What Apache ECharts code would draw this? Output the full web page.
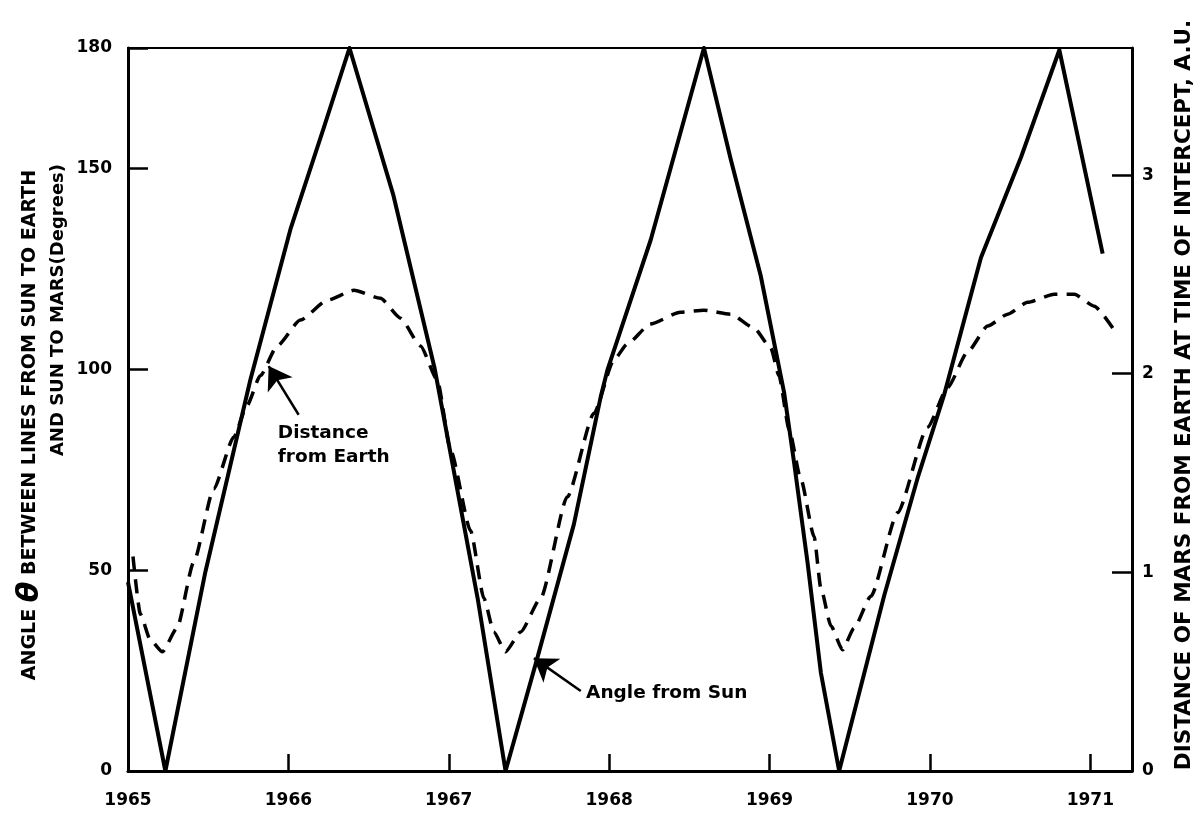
<!DOCTYPE html>
<html>
<head>
<meta charset="utf-8">
<script src="https://cdn.jsdelivr.net/npm/echarts@6/dist/echarts.min.js"></script>
<style>
  html, body { margin: 0; padding: 0; background: #fff; }
  #chart { width: 1203px; height: 818px; }
</style>
</head>
<body>
<div id="chart"></div>
<script>
// angle between sun-earth and sun-mars lines (degrees, left axis)
var angleDates = [1965.00, 1965.233, 1965.482, 1965.763, 1966.013, 1966.219, 1966.381,
  1966.655, 1966.911, 1967.180, 1967.354,
  1967.552, 1967.780, 1967.947, 1967.989, 1968.259, 1968.591,
  1968.758, 1968.945, 1969.091, 1969.153, 1969.237, 1969.320, 1969.434,
  1969.715, 1969.923, 1970.089, 1970.318, 1970.568, 1970.807,
  1971.077];
var angleValues = [47, 0, 49.5, 97.4, 134.9, 159.9, 180,
  143.3, 100.4, 43, 0,
  28.1, 61.4, 93.1, 99.8, 132.2, 180,
  152.3, 123.3, 94.2, 76.8, 51.9, 24.5, 0,
  43.7, 72.9, 93.7, 127.8, 152.8, 179.5,
  128.8];

// distance of mars from earth (A.U., right axis)
var distDates = [1965.031, 1965.077, 1965.139, 1965.214, 1965.306, 1965.409, 1965.534, 1965.659,
  1965.742, 1965.825, 1965.930, 1966.075, 1966.242, 1966.408, 1966.574, 1966.699, 1966.824,
  1966.928, 1967.013, 1967.136, 1967.219, 1967.281, 1967.354, 1967.448, 1967.573, 1967.739,
  1967.905, 1968.030, 1968.113, 1968.257, 1968.444, 1968.591, 1968.758, 1968.904, 1969.008,
  1969.059, 1969.122, 1969.195, 1969.278, 1969.320, 1969.383, 1969.455, 1969.527, 1969.632,
  1969.798, 1969.985, 1970.110, 1970.235, 1970.360, 1970.485, 1970.609, 1970.775, 1970.900,
  1971.025, 1971.140];
var distValues = [1.08, 0.79, 0.66, 0.60, 0.72, 1.05, 1.42, 1.68,
  1.84, 1.99, 2.14, 2.27, 2.37, 2.42, 2.38, 2.28, 2.14,
  1.97, 1.61, 1.21, 0.87, 0.70, 0.60, 0.70, 0.87, 1.38,
  1.80, 2.07, 2.15, 2.25, 2.31, 2.32, 2.30, 2.23, 2.13,
  1.99, 1.72, 1.47, 1.18, 0.92, 0.73, 0.61, 0.72, 0.88,
  1.30, 1.73, 1.93, 2.11, 2.24, 2.30, 2.36, 2.40, 2.40,
  2.34, 2.23];

var yearTicks = [1965, 1966, 1967, 1968, 1969, 1970, 1971];

// annotations (data coords on left axis)
var distArrow = [[1966.064, 88.7], [1965.877, 100.8]];
var angleArrow = [[1967.823, 19.9], [1967.531, 28.1]];
var distText = [1965.931, 81];
var angleText = [1967.853, 19.4];

function zip(a, b) {
  return a.map(function (v, i) { return [v, b[i]]; });
}

var font = 'DejaVu Sans';
var chart = echarts.init(document.getElementById('chart'));

var option = {
  animation: false,
  backgroundColor: '#fff',
  grid: {
    left: 128, right: 71, top: 48, bottom: 47,
    show: true, borderColor: '#000', borderWidth: 2
  },
  xAxis: {
    type: 'value',
    min: 1965,
    max: 1971.26,
    interval: 1,
    axisLine: { lineStyle: { color: '#000', width: 3 } },
    axisTick: { inside: true, length: 17, lineStyle: { color: '#000', width: 2.5 } },
    axisLabel: {
      margin: 21,
      showMaxLabel: false,
      color: '#000', fontFamily: font, fontWeight: 'bold', fontSize: 17,
      formatter: function (v) { return yearTicks.indexOf(v) >= 0 ? String(v) : ''; }
    },
    splitLine: { show: false }
  },
  yAxis: [{
    type: 'value',
    min: 0,
    max: 180,
    interval: 50,
    axisLine: { show: true, lineStyle: { color: '#000', width: 3 } },
    axisTick: { show: true, inside: true, length: 20, lineStyle: { color: '#000', width: 2.5 } },
    axisLabel: { margin: 16, color: '#000', fontFamily: font, fontWeight: 'bold', fontSize: 17 },
    splitLine: { show: false }
  }, {
    type: 'value',
    position: 'right',
    min: 0,
    max: 3.64,
    interval: 1,
    axisLine: { show: true, lineStyle: { color: '#000', width: 3 } },
    axisTick: { show: true, inside: true, length: 20, lineStyle: { color: '#000', width: 2.5 } },
    axisLabel: {
      margin: 10, color: '#000', fontFamily: font, fontWeight: 'bold', fontSize: 17,
      showMaxLabel: false,
      formatter: function (v) { return v % 1 === 0 ? String(v) : ''; }
    },
    splitLine: { show: false }
  }],
  graphic: [{
    type: 'text',
    x: 30, y: 425,
    rotation: Math.PI / 2,
    style: {
      text: 'ANGLE {t|θ} BETWEEN LINES FROM SUN TO EARTH',
      fontFamily: font, fontWeight: 'bold', fontSize: 19, fill: '#000',
      align: 'center', verticalAlign: 'middle',
      rich: { t: { fontFamily: font, fontStyle: 'italic', fontWeight: 'bold', fontSize: 30, fill: '#000' } }
    }
  }, {
    type: 'text',
    x: 58, y: 310,
    rotation: Math.PI / 2,
    style: {
      text: 'AND SUN TO MARS(Degrees)',
      fontFamily: font, fontWeight: 'bold', fontSize: 18, fill: '#000',
      align: 'center', verticalAlign: 'middle'
    }
  }, {
    type: 'text',
    x: 1184, y: 395,
    rotation: Math.PI / 2,
    style: {
      text: 'DISTANCE OF MARS FROM EARTH AT TIME OF INTERCEPT, A.U.',
      fontFamily: font, fontWeight: 'bold', fontSize: 21.5, fill: '#000',
      align: 'center', verticalAlign: 'middle'
    }
  }],
  series: [{
    name: 'Angle from Sun',
    type: 'line',
    yAxisIndex: 0,
    data: zip(angleDates, angleValues),
    showSymbol: false,
    lineStyle: { color: '#000', width: 4, join: 'round' },
    markLine: {
      silent: true,
      symbol: ['none', 'arrow'],
      symbolSize: 22,
      label: { show: false },
      lineStyle: { color: '#000', width: 2.5, type: 'solid' },
      data: [
        [{ coord: distArrow[0] }, { coord: distArrow[1] }],
        [{ coord: angleArrow[0] }, { coord: angleArrow[1] }]
      ]
    },
    markPoint: {
      silent: true,
      symbol: 'circle',
      symbolSize: 1,
      itemStyle: { color: 'rgba(0,0,0,0)' },
      label: {
        show: true, position: 'right', distance: 0,
        color: '#000', fontFamily: font, fontWeight: 'bold', fontSize: 18.5,
        lineHeight: 24, align: 'left',
        formatter: '{b}'
      },
      data: [
        { name: 'Distance\nfrom Earth', coord: distText },
        { name: 'Angle from Sun', coord: angleText }
      ]
    }
  }, {
    name: 'Distance from Earth',
    type: 'line',
    yAxisIndex: 1,
    data: zip(distDates, distValues),
    showSymbol: false,
    smooth: 0.2,
    smoothMonotone: 'x',
    lineStyle: { color: '#000', width: 3.5, type: [14, 9] }
  }]
};

chart.setOption(option);
</script>
</body>
</html>
